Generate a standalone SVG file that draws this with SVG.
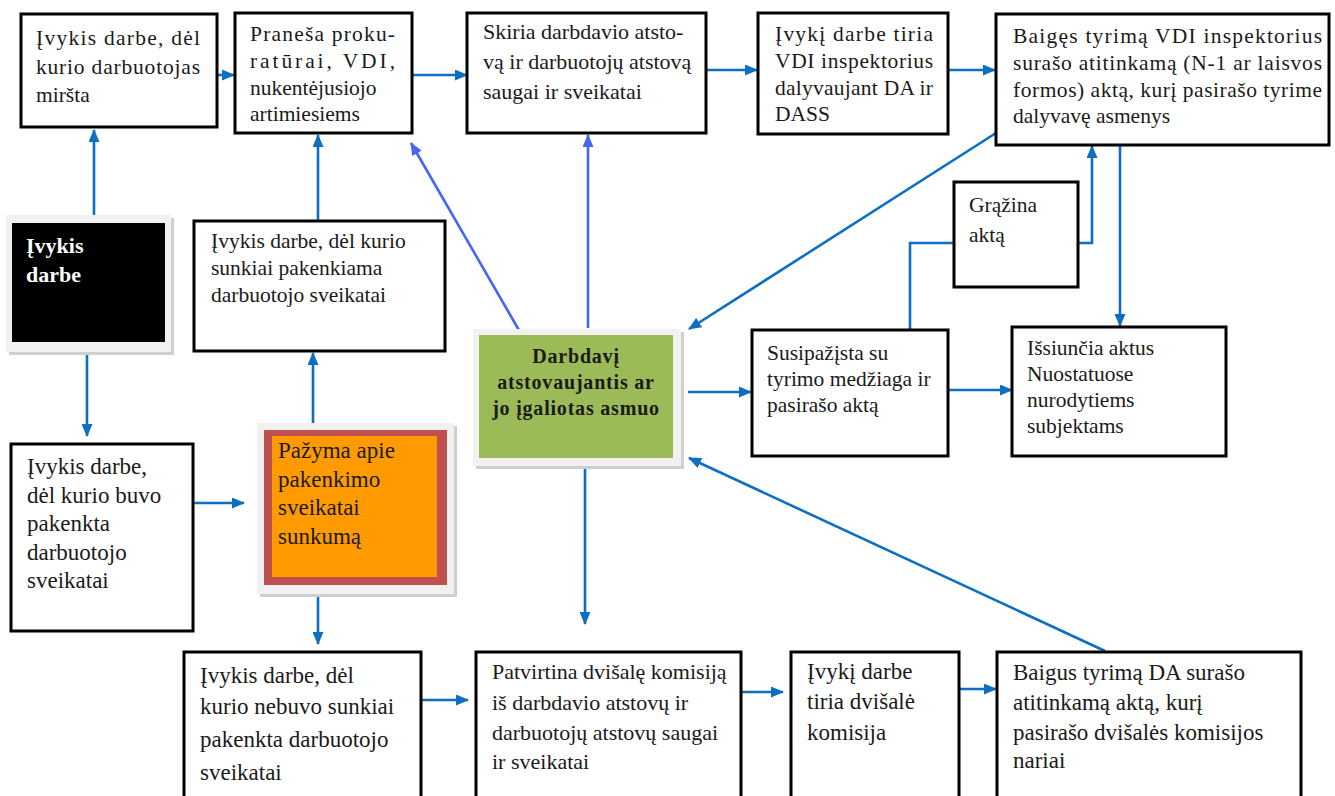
<svg xmlns="http://www.w3.org/2000/svg" width="1335" height="796" viewBox="0 0 1335 796">
<defs>
<marker id="ah" markerUnits="userSpaceOnUse" markerWidth="13" markerHeight="11" refX="12" refY="5.5" orient="auto">
<path d="M0,0 L13,5.5 L0,11 z" fill="#0e6fc1"/>
</marker>
<marker id="ahb" markerUnits="userSpaceOnUse" markerWidth="13" markerHeight="11" refX="12" refY="5.5" orient="auto">
<path d="M0,0 L13,5.5 L0,11 z" fill="#4466f2"/>
</marker>
<style>
.box{fill:#fff;stroke:#000;stroke-width:3}
.t{font-family:"Liberation Serif","Times New Roman",serif;font-size:21.5px;fill:#1a1a1a}
.tb{font-size:23px}
.tm{font-size:22px}
.c{fill:none;stroke:#0e6fc1;stroke-width:2.6;marker-end:url(#ah)}
.cn{fill:none;stroke:#0e6fc1;stroke-width:2.6}
.cb{fill:none;stroke:#4466f2;stroke-width:2.6;marker-end:url(#ahb)}
.frame{fill:#f1f1f1}
.shadow{fill:#cfcfcf}
</style>
</defs>
<rect width="1335" height="796" fill="#fff"/>

<g id="connectors">
<line class="c" x1="217" y1="75" x2="234" y2="75"/>
<line class="c" x1="413" y1="75" x2="467" y2="75"/>
<line class="c" x1="706" y1="70" x2="757" y2="70"/>
<line class="c" x1="948" y1="70" x2="995" y2="70"/>
<line class="c" x1="94" y1="215" x2="94" y2="130"/>
<line class="c" x1="87" y1="352" x2="87" y2="436"/>
<line class="c" x1="318" y1="220" x2="318" y2="135"/>
<line class="c" x1="313" y1="423" x2="313" y2="353"/>
<line class="c" x1="194" y1="503" x2="244" y2="503"/>
<line class="c" x1="318" y1="595" x2="318" y2="644"/>
<line class="cb" x1="520" y1="332" x2="411" y2="143"/>
<line class="cb" x1="588" y1="328" x2="588" y2="135"/>
<line class="c" x1="996" y1="133" x2="689" y2="329"/>
<line class="c" x1="688" y1="392" x2="751" y2="392"/>
<line class="c" x1="949" y1="390" x2="1012" y2="390"/>
<polyline class="cn" points="910,329 910,243 953,243"/>
<polyline class="c" points="1079,243 1092,243 1092,146"/>
<line class="c" x1="1120" y1="145" x2="1120" y2="326"/>
<line class="c" x1="585" y1="466" x2="585" y2="624"/>
<line class="c" x1="422" y1="700" x2="468" y2="700"/>
<line class="c" x1="742" y1="692" x2="783" y2="692"/>
<line class="c" x1="960" y1="689" x2="996" y2="689"/>
<line class="c" x1="1105" y1="651" x2="689" y2="458"/>
</g>

<g id="n-mirsta">
<rect class="box" x="21" y="14" width="196" height="113"/>
<text class="t" x="36" y="45" textLength="164" lengthAdjust="spacing">Įvykis darbe, dėl</text>
<text class="t" x="36" y="74" textLength="164" lengthAdjust="spacing">kurio darbuotojas</text>
<text class="t" x="36" y="102">miršta</text>
</g>

<g id="n-pranesa">
<rect class="box" x="235" y="13" width="177" height="120"/>
<text class="t" x="250" y="41" textLength="145" lengthAdjust="spacing">Praneša proku-</text>
<text class="t" x="250" y="68" textLength="145" lengthAdjust="spacing">ratūrai, VDI,</text>
<text class="t" x="250" y="95">nukentėjusiojo</text>
<text class="t" x="250" y="121">artimiesiems</text>
</g>

<g id="n-skiria">
<rect class="box" x="467" y="13" width="239" height="120"/>
<text class="t tm" x="483" y="39">Skiria darbdavio atsto-</text>
<text class="t tm" x="483" y="69">vą ir darbuotojų atstovą</text>
<text class="t tm" x="483" y="99">saugai ir sveikatai</text>
</g>

<g id="n-vdi">
<rect class="box" x="758" y="13" width="190" height="121"/>
<text class="t" x="775" y="41" textLength="158" lengthAdjust="spacing">Įvykį darbe tiria</text>
<text class="t" x="775" y="68" textLength="158" lengthAdjust="spacing">VDI inspektorius</text>
<text class="t" x="775" y="95" textLength="158" lengthAdjust="spacing">dalyvaujant DA ir</text>
<text class="t" x="775" y="121">DASS</text>
</g>

<g id="n-baiges">
<rect class="box" x="996" y="14" width="333" height="131"/>
<text class="t" x="1013" y="43" textLength="309" lengthAdjust="spacing">Baigęs tyrimą VDI inspektorius</text>
<text class="t" x="1013" y="70" textLength="309" lengthAdjust="spacing">surašo atitinkamą (N-1 ar laisvos</text>
<text class="t" x="1013" y="97" textLength="309" lengthAdjust="spacing">formos) aktą, kurį pasirašo tyrime</text>
<text class="t" x="1013" y="123">dalyvavę asmenys</text>
</g>

<g id="n-ivykis">
<rect class="shadow" x="9" y="218" width="165" height="137"/>
<rect class="frame" x="6" y="215" width="165" height="137"/>
<rect x="12" y="223" width="153" height="119" fill="#000"/>
<text class="t" x="26" y="253" style="font-weight:bold;font-size:22px;fill:#fff">Įvykis</text>
<text class="t" x="26" y="282" style="font-weight:bold;font-size:22px;fill:#fff">darbe</text>
</g>

<g id="n-sunkiai">
<rect class="box" x="194" y="221" width="251" height="130"/>
<text class="t" x="211" y="248">Įvykis darbe, dėl kurio</text>
<text class="t" x="211" y="275">sunkiai pakenkiama</text>
<text class="t" x="211" y="302">darbuotojo sveikatai</text>
</g>

<g id="n-darbdavys">
<rect class="shadow" x="476" y="332" width="208" height="137"/>
<rect class="frame" x="473" y="329" width="208" height="137"/>
<rect x="479" y="335" width="194" height="123" fill="#9bbb59"/>
<g style="font-weight:bold;letter-spacing:0.8px" text-anchor="middle">
<text class="t" x="576" y="363" style="font-size:20px">Darbdavį</text>
<text class="t" x="576" y="389" style="font-size:20px">atstovaujantis ar</text>
<text class="t" x="576" y="415" style="font-size:20px">jo įgaliotas asmuo</text>
</g>
</g>

<g id="n-susipazista">
<rect class="box" x="752" y="330" width="196" height="126"/>
<text class="t" x="767" y="360">Susipažįsta su</text>
<text class="t" x="767" y="386">tyrimo medžiaga ir</text>
<text class="t" x="767" y="412">pasirašo aktą</text>
</g>

<g id="n-grazina">
<rect class="box" x="954" y="182" width="124" height="105"/>
<text class="t" x="969" y="212">Grąžina</text>
<text class="t" x="969" y="242">aktą</text>
</g>

<g id="n-issiuncia">
<rect class="box" x="1012" y="327" width="214" height="129"/>
<text class="t" x="1027" y="355">Išsiunčia aktus</text>
<text class="t" x="1027" y="381">Nuostatuose</text>
<text class="t" x="1027" y="407">nurodytiems</text>
<text class="t" x="1027" y="433">subjektams</text>
</g>

<g id="n-buvo">
<rect class="box" x="11" y="444" width="182" height="187"/>
<text class="t tb" x="27" y="474">Įvykis darbe,</text>
<text class="t tb" x="27" y="503">dėl kurio buvo</text>
<text class="t tb" x="27" y="531">pakenkta</text>
<text class="t tb" x="27" y="560">darbuotojo</text>
<text class="t tb" x="27" y="588">sveikatai</text>
</g>

<g id="n-pazyma">
<rect class="shadow" x="260" y="426" width="197" height="171"/>
<rect class="frame" x="257" y="423" width="197" height="171"/>
<rect x="264" y="430" width="183" height="155" fill="#c0504d"/>
<rect x="272" y="436" width="165" height="141" fill="#ff9a00"/>
<text class="t tb" x="278" y="458">Pažyma apie</text>
<text class="t tb" x="278" y="487">pakenkimo</text>
<text class="t tb" x="278" y="515">sveikatai</text>
<text class="t tb" x="278" y="544">sunkumą</text>
</g>

<g id="n-nebuvo">
<rect class="box" x="184" y="652" width="237" height="150"/>
<text class="t tb" x="200" y="683">Įvykis darbe, dėl</text>
<text class="t tb" x="200" y="714">kurio nebuvo sunkiai</text>
<text class="t tb" x="200" y="747">pakenkta darbuotojo</text>
<text class="t tb" x="200" y="780">sveikatai</text>
</g>

<g id="n-patvirtina">
<rect class="box" x="476" y="652" width="265" height="150"/>
<text class="t tm" x="492" y="679">Patvirtina dvišalę komisiją</text>
<text class="t tm" x="492" y="710">iš darbdavio atstovų ir</text>
<text class="t tm" x="492" y="740">darbuotojų atstovų saugai</text>
<text class="t tm" x="492" y="769">ir sveikatai</text>
</g>

<g id="n-dvisale">
<rect class="box" x="791" y="652" width="168" height="150"/>
<text class="t tb" x="807" y="679">Įvykį darbe</text>
<text class="t tb" x="807" y="709">tiria dvišalė</text>
<text class="t tb" x="807" y="740">komisija</text>
</g>

<g id="n-baigus">
<rect class="box" x="997" y="652" width="304" height="150"/>
<text class="t tb" x="1013" y="680">Baigus tyrimą DA surašo</text>
<text class="t tb" x="1013" y="710">atitinkamą aktą, kurį</text>
<text class="t tb" x="1013" y="740">pasirašo dvišalės komisijos</text>
<text class="t tb" x="1013" y="768">nariai</text>
</g>
</svg>
